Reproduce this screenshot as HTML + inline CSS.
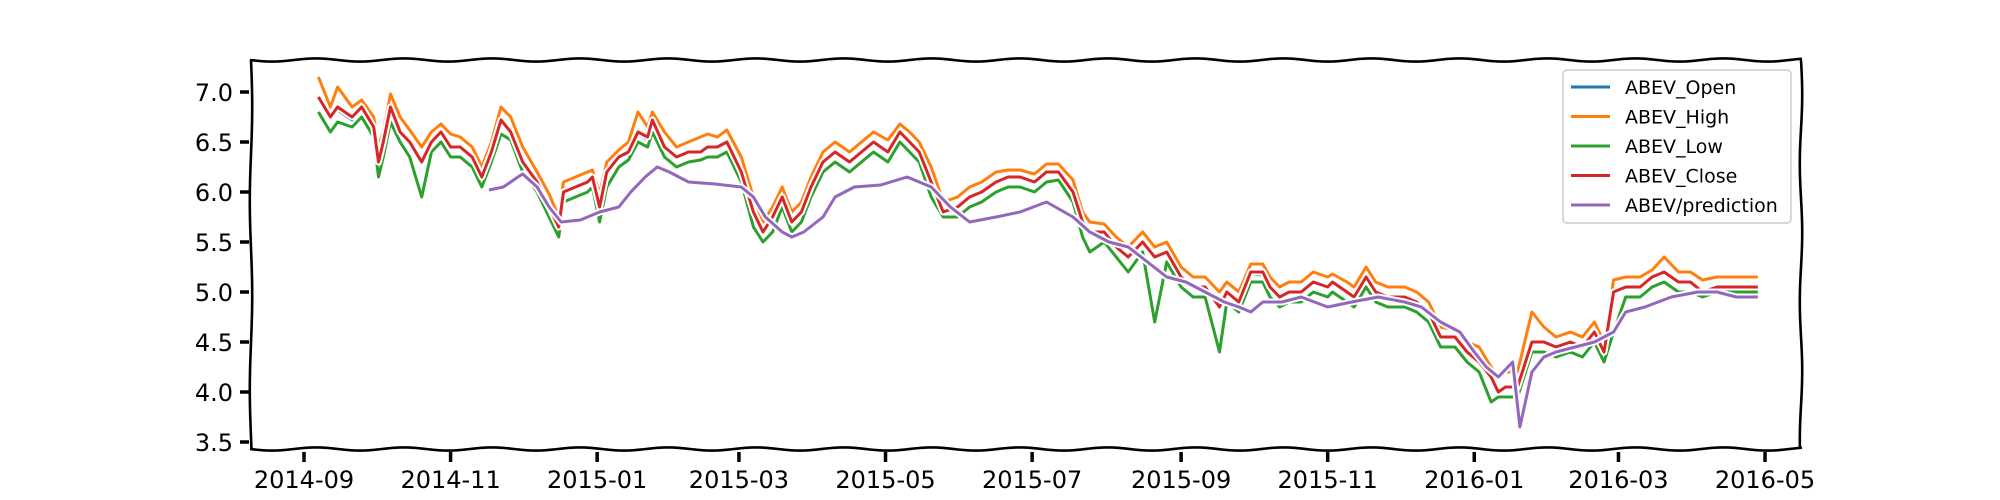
<!DOCTYPE html>
<html><head><meta charset="utf-8"><title>ABEV chart</title>
<style>
html,body{margin:0;padding:0;background:#fff;}
svg{display:block;font-family:"DejaVu Sans","Liberation Sans",sans-serif;}
</style></head>
<body>
<svg id="chart" width="2000" height="500" viewBox="0 0 2000 500" xmlns="http://www.w3.org/2000/svg">
<g id="series"></g>
<g id="frame"></g>
<g id="yaxis"></g>
<g id="xaxis"></g>
<g id="legend"></g>
</svg>
<script>
// ---- data (day offsets from 2014-09-01) ----
const ohlcDays = [6,11,14,20,24,29,31,33,36,40,44,49,53,57,61,65,70,74,78,82,86,91,97,102,106,108,113,118,120,123,126,131,135,139,143,145,150,155,160,165,168,172,176,182,187,191,195,199,203,207,211,216,221,227,232,237,243,248,252,256,261,266,272,277,282,288,293,298,304,309,314,320,324,327,333,338,343,349,354,359,365,370,375,381,384,389,394,399,402,406,410,415,420,426,428,434,437,442,446,451,458,463,468,473,479,484,489,494,497,500,505,511,516,521,527,532,537,541,545,550,556,561,566,572,577,582,588,593,600,605];
const closeVals = [6.95,6.75,6.85,6.75,6.85,6.65,6.30,6.50,6.85,6.60,6.50,6.30,6.50,6.60,6.45,6.45,6.35,6.15,6.40,6.72,6.60,6.30,6.10,5.85,5.65,6.00,6.05,6.10,6.15,5.85,6.20,6.35,6.40,6.60,6.55,6.72,6.45,6.35,6.40,6.40,6.45,6.45,6.50,6.20,5.80,5.60,5.75,5.95,5.70,5.80,6.05,6.30,6.40,6.30,6.40,6.50,6.40,6.60,6.50,6.40,6.10,5.80,5.85,5.95,6.00,6.10,6.15,6.15,6.10,6.20,6.20,6.00,5.70,5.60,5.60,5.45,5.35,5.50,5.35,5.40,5.15,5.05,5.05,4.85,5.00,4.90,5.20,5.20,5.05,4.95,5.00,5.00,5.10,5.05,5.10,5.00,4.95,5.15,5.00,4.95,4.95,4.90,4.80,4.55,4.55,4.40,4.30,4.15,4.00,4.05,4.05,4.50,4.50,4.45,4.50,4.45,4.60,4.40,5.00,5.05,5.05,5.15,5.20,5.10,5.10,5.00,5.05,5.05,5.05,5.05];
const highVals = [7.15,6.85,7.05,6.85,6.92,6.75,6.45,6.60,6.98,6.75,6.62,6.45,6.60,6.68,6.58,6.55,6.45,6.25,6.50,6.85,6.75,6.45,6.20,5.98,5.75,6.10,6.15,6.20,6.22,5.98,6.30,6.42,6.50,6.80,6.65,6.80,6.60,6.45,6.50,6.55,6.58,6.55,6.62,6.35,5.95,5.70,5.85,6.05,5.80,5.90,6.15,6.40,6.50,6.40,6.50,6.60,6.52,6.68,6.60,6.50,6.25,5.90,5.95,6.05,6.10,6.20,6.22,6.22,6.18,6.28,6.28,6.12,5.80,5.70,5.68,5.55,5.45,5.60,5.45,5.50,5.25,5.15,5.15,5.00,5.10,5.00,5.28,5.28,5.15,5.05,5.10,5.10,5.20,5.15,5.18,5.10,5.05,5.25,5.10,5.05,5.05,5.00,4.90,4.65,4.62,4.50,4.45,4.25,4.15,4.20,4.20,4.80,4.65,4.55,4.60,4.55,4.70,4.50,5.12,5.15,5.15,5.22,5.35,5.20,5.20,5.12,5.15,5.15,5.15,5.15];
const lowVals = [6.80,6.60,6.70,6.65,6.75,6.55,6.15,6.35,6.70,6.50,6.35,5.95,6.40,6.50,6.35,6.35,6.25,6.05,6.30,6.58,6.52,6.20,6.00,5.75,5.55,5.90,5.95,6.00,6.05,5.70,6.05,6.25,6.32,6.50,6.45,6.60,6.35,6.25,6.30,6.32,6.35,6.35,6.40,6.10,5.65,5.50,5.60,5.85,5.60,5.70,5.95,6.20,6.30,6.20,6.30,6.40,6.30,6.50,6.40,6.30,5.95,5.75,5.75,5.85,5.90,6.00,6.05,6.05,6.00,6.10,6.12,5.90,5.55,5.40,5.50,5.35,5.20,5.40,4.70,5.30,5.05,4.95,4.95,4.40,4.90,4.80,5.10,5.10,4.95,4.85,4.90,4.90,5.00,4.95,5.00,4.90,4.85,5.05,4.90,4.85,4.85,4.80,4.70,4.45,4.45,4.30,4.20,3.90,3.95,3.95,3.95,4.40,4.40,4.35,4.40,4.35,4.50,4.30,4.60,4.95,4.95,5.05,5.10,5.00,5.00,4.95,5.00,5.00,5.00,5.00];
const openVals = [6.92,6.78,6.82,6.72,6.82,6.68,6.35,6.48,6.82,6.62,6.48,6.35,6.48,6.58,6.47,6.43,6.37,6.18,6.38,6.70,6.62,6.32,6.12,5.88,5.68,5.98,6.04,6.08,6.13,5.88,6.18,6.33,6.38,6.58,6.52,6.70,6.47,6.37,6.38,6.42,6.43,6.47,6.48,6.22,5.82,5.62,5.73,5.93,5.72,5.78,6.03,6.28,6.38,6.32,6.38,6.48,6.42,6.58,6.52,6.42,6.12,5.82,5.83,5.93,6.02,6.08,6.13,6.17,6.08,6.18,6.22,6.02,5.72,5.62,5.58,5.47,5.37,5.48,5.37,5.38,5.17,5.07,5.03,4.88,4.98,4.92,5.18,5.17,5.07,4.97,4.98,5.02,5.08,5.07,5.08,5.02,4.97,5.13,5.02,4.97,4.93,4.92,4.82,4.57,4.53,4.42,4.32,4.17,4.02,4.03,4.07,4.48,4.52,4.43,4.48,4.47,4.58,4.42,4.98,5.03,5.07,5.13,5.18,5.12,5.08,5.02,5.03,5.03,5.03,5.03];
const predDays = [77,83,86,89,91,97,102,107,115,123,131,136,142,147,152,160,171,182,187,192,199,203,208,216,221,229,240,251,261,269,277,288,298,309,320,327,335,343,351,359,367,375,383,389,394,399,407,415,426,436,447,458,465,473,481,487,492,497,503,506,511,516,521,529,537,545,550,558,569,580,588,596,605];
const predVals = [6.02,6.05,6.10,6.15,6.18,6.05,5.85,5.70,5.72,5.80,5.85,6.00,6.15,6.25,6.20,6.10,6.08,6.05,5.95,5.75,5.60,5.55,5.60,5.75,5.95,6.05,6.07,6.15,6.05,5.85,5.70,5.75,5.80,5.90,5.75,5.60,5.50,5.45,5.30,5.15,5.10,5.00,4.90,4.85,4.80,4.90,4.90,4.95,4.85,4.90,4.95,4.90,4.85,4.70,4.60,4.40,4.25,4.15,4.30,3.65,4.20,4.35,4.40,4.45,4.50,4.60,4.80,4.85,4.95,5.00,5.00,4.95,4.95];
const yTicks = [3.5,4.0,4.5,5.0,5.5,6.0,6.5,7.0];
const xTickDays = [0,61,122,181,242,303,365,426,487,547,608];
const xTickLabels = ["2014-09","2014-11","2015-01","2015-03","2015-05","2015-07","2015-09","2015-11","2016-01","2016-03","2016-05"];
const legendLabels = ["ABEV_Open","ABEV_High","ABEV_Low","ABEV_Close","ABEV/prediction"];
const colors = ["#1f77b4","#ff7f0e","#2ca02c","#d62728","#9467bd"];

// ---- scales ----
const X0 = 304, PXDAY = 2.403;
const xScale = d => X0 + d * PXDAY;
const yScale = v => 92 + (7.0 - v) * 100;
const NS = "http://www.w3.org/2000/svg";
function mk(tag, parent) { const e = document.createElementNS(NS, tag); parent.appendChild(e); return e; }

// ---- series ----
const seriesG = document.getElementById('series');
const allSeries = [[ohlcDays, openVals],[ohlcDays, highVals],[ohlcDays, lowVals],[ohlcDays, closeVals],[predDays, predVals]];
const seriesNames = ["open-line","high-line","low-line","close-line","prediction-line"];
allSeries.forEach((s, i) => {
  const d = s[0].map((day, k) => (k ? 'L' : 'M') + xScale(day).toFixed(1) + ' ' + yScale(s[1][k]).toFixed(1)).join(' ');
  const halo = mk('path', seriesG);
  
  
  halo.setAttribute('d', d);
  halo.setAttribute('fill', 'none'); halo.setAttribute('stroke', '#fff');
  halo.setAttribute('stroke-width', '7'); halo.setAttribute('stroke-linejoin', 'round');
  const p = mk('path', seriesG);
  
  
  p.setAttribute('d', d);
  p.setAttribute('fill', 'none'); p.setAttribute('stroke', colors[i]);
  p.setAttribute('stroke-width', '3'); p.setAttribute('stroke-linejoin', 'round');
});

// ---- wobbly frame ----
function wobH(x1, x2, y, amp, per) { let s = ''; for (let x = x1; x <= x2; x += 4) s += (x === x1 ? 'M' : 'L') + x + ' ' + (y + amp * Math.sin((x - x1) / per)).toFixed(2) + ' '; return s; }
function wobV(y1, y2, x, amp, per) { let s = ''; for (let y = y1; y <= y2; y += 4) s += (y === y1 ? 'M' : 'L') + (x + amp * Math.sin((y - y1) / per)).toFixed(2) + ' ' + y + ' '; return s; }
const frameG = document.getElementById('frame');
[[wobH(250, 1802, 60, 1.6, 14), 'top-spine'], [wobH(250, 1802, 449, 1.6, 14), 'bottom-spine'], [wobV(60, 449, 251, 1.2, 30), 'left-spine'], [wobV(60, 449, 1801, 1.2, 22), 'right-spine']].forEach(([d, n]) => {
  const p = mk('path', frameG);
  
  
  p.setAttribute('d', d); p.setAttribute('fill', 'none'); p.setAttribute('stroke', '#000'); p.setAttribute('stroke-width', '2.6');
});

// ---- y axis ----
const yG = document.getElementById('yaxis');
yTicks.forEach(v => {
  const y = yScale(v);
  const t = mk('line', yG);
  
  
  t.setAttribute('x1', 240); t.setAttribute('x2', 249); t.setAttribute('y1', y); t.setAttribute('y2', y);
  t.setAttribute('stroke', '#000'); t.setAttribute('stroke-width', '3.5');
  const l = mk('text', yG);
  
  
  l.setAttribute('x', 233); l.setAttribute('y', y + 9); l.setAttribute('text-anchor', 'end');
  l.setAttribute('font-size', '24'); l.textContent = v.toFixed(1);
});

// ---- x axis ----
const xG = document.getElementById('xaxis');
xTickDays.forEach((d, i) => {
  const x = xScale(d);
  const t = mk('line', xG);
  
  
  t.setAttribute('x1', x); t.setAttribute('x2', x); t.setAttribute('y1', 452); t.setAttribute('y2', 462);
  t.setAttribute('stroke', '#000'); t.setAttribute('stroke-width', '3.5');
  const l = mk('text', xG);
  
  
  l.setAttribute('x', x); l.setAttribute('y', 488); l.setAttribute('text-anchor', 'middle');
  l.setAttribute('font-size', '24'); l.textContent = xTickLabels[i];
});

// ---- legend ----
const lg = document.getElementById('legend');
const box = mk('rect', lg);


box.setAttribute('x', 1563); box.setAttribute('y', 70); box.setAttribute('width', 228); box.setAttribute('height', 153);
box.setAttribute('rx', 4); box.setAttribute('fill', '#fff'); box.setAttribute('stroke', '#ccc'); box.setAttribute('stroke-width', '1.5');
legendLabels.forEach((lab, i) => {
  const y = 87 + i * 29.5;
  const ln = mk('line', lg);
  
  
  ln.setAttribute('x1', 1571); ln.setAttribute('x2', 1610); ln.setAttribute('y1', y); ln.setAttribute('y2', y);
  ln.setAttribute('stroke', colors[i]); ln.setAttribute('stroke-width', '3');
  const tx = mk('text', lg);
  
  
  tx.setAttribute('x', 1625); tx.setAttribute('y', y + 7); tx.setAttribute('font-size', '19');
  tx.textContent = lab;
});
</script>
</body></html>
